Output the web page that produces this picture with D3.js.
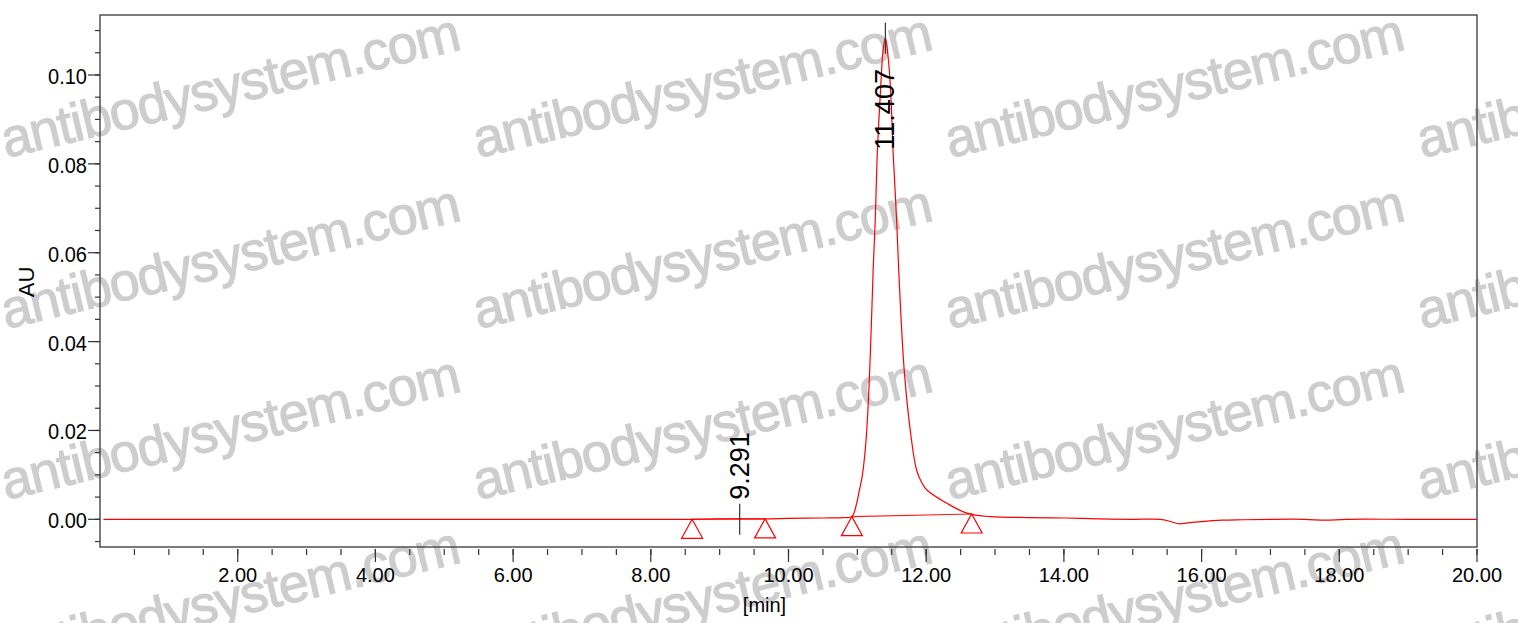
<!DOCTYPE html>
<html>
<head>
<meta charset="utf-8">
<script src="https://cdn.jsdelivr.net/npm/d3@7"></script>
<style>
  body { margin: 0; background: #fff; }
  svg { display: block; font-family: Arial, "Liberation Sans", sans-serif; }
  .tick-label { font-size: 20px; fill: #000; }
  .axis-title { font-size: 22px; fill: #000; }
  .peak-label { font-size: 27px; fill: #000; }
  .wm { font-size: 54px; fill: #cdcdcd; stroke: #cdcdcd; stroke-width: 1.1; letter-spacing: -1.3px; }
</style>
</head>
<body>
<svg id="chart"></svg>
<script>
  //begin: data
  var timeValues = [0.05, 2.0, 4.0, 6.0, 8.0, 8.6, 9.0, 9.66, 10.0, 10.5, 10.8, 10.92,
      10.99, 11.03, 11.07, 11.13, 11.18, 11.23, 11.26, 11.29, 11.34, 11.37, 11.407,
      11.44, 11.48, 11.52, 11.57, 11.60, 11.68, 11.78, 11.86, 11.94, 12.01, 12.30,
      12.59, 12.93, 13.5, 14.0, 14.5, 15.0, 15.4, 15.55, 15.66, 15.8, 16.0, 16.3,
      16.6, 17.0, 17.5, 17.8, 18.1, 19.0, 20.0];
  var auValues = [0.0000, 0.0000, 0.0000, 0.0000, 0.0000, 0.0000, 0.0001, 0.0001, 0.0002, 0.0003, 0.0004, 0.0006,
      0.0036, 0.0066, 0.0096, 0.0186, 0.0337, 0.0563, 0.0675, 0.0825, 0.0975, 0.1050, 0.1084,
      0.1050, 0.0975, 0.0825, 0.0675, 0.0563, 0.0337, 0.0186, 0.0111, 0.0081, 0.0066, 0.0036,
      0.0014, 0.0006, 0.0004, 0.0003, 0.0001, 0.0000, 0.0000, -0.0005, -0.0010, -0.0008, -0.0005, -0.0002,
      -0.0001, 0.0000, 0.0000, -0.0002, 0.0000, 0.0000, 0.0000];

  var markerTimes = [8.60, 9.66, 10.92, 12.66];
  var markerValues = [0.0000, 0.0001, 0.0006, 0.0012];
  var baselinePairs = [[0, 1], [2, 3]];

  var peakTimes = [9.291, 11.407];
  var peakHeights = [0.0001, 0.1084];
  var peakLabels = ["9.291", "11.407"];

  var xTickValues = [2, 4, 6, 8, 10, 12, 14, 16, 18, 20];
  var yTickValues = [0.00, 0.02, 0.04, 0.06, 0.08, 0.10];
  var watermarkText = "antibodysystem.com";
  //end: data

  //begin: layout conf.
  var svgWidth = 1518, svgHeight = 623,
      plot = {left: 100, right: 1477, top: 15, bottom: 547};
  //end: layout conf.

  var svg = d3.select("#chart")
    .attr("width", svgWidth)
    .attr("height", svgHeight);

  var x = d3.scaleLinear().domain([0, 20]).range([plot.left, plot.right]);
  var y = d3.scaleLinear().domain([-0.00623, 0.1135]).range([plot.bottom, plot.top]);

  // watermark, behind everything
  var wm = svg.append("g").classed("watermarks", true);
  for (var r = 0; r < 4; r++) {
    for (var c = 0; c < 4; c++) {
      wm.append("text")
        .classed("wm", true)
        .attr("transform", "translate(" + [6 + c*472, 158 + r*171] + ") rotate(-13.4)")
        .text(watermarkText);
    }
  }

  // frame
  svg.append("rect")
    .attr("x", plot.left)
    .attr("y", plot.top)
    .attr("width", plot.right - plot.left)
    .attr("height", plot.bottom - plot.top)
    .style("fill", "none")
    .style("stroke", "#444")
    .style("stroke-width", 1.4);

  // y axis ticks
  var yAxis = svg.append("g").classed("y-axis", true);
  var yMinor = d3.range(-0.005, 0.1101, 0.005);
  yAxis.selectAll(".minor")
    .data(yMinor)
    .enter().append("line")
    .attr("x1", plot.left - 5).attr("x2", plot.left)
    .attr("y1", function(d){ return y(d); })
    .attr("y2", function(d){ return y(d); })
    .style("stroke", "#333").style("stroke-width", 1.2);
  yAxis.selectAll(".major")
    .data(yTickValues)
    .enter().append("line")
    .attr("x1", plot.left - 12).attr("x2", plot.left)
    .attr("y1", function(d){ return y(d); })
    .attr("y2", function(d){ return y(d); })
    .style("stroke", "#333").style("stroke-width", 1.2);
  yAxis.selectAll(".tick-label")
    .data(yTickValues)
    .enter().append("text")
    .classed("tick-label", true)
    .attr("text-anchor", "end")
    .attr("transform", function(d){ return "translate(" + [plot.left - 13, y(d) + 9] + ") scale(1,1.12)"; })
    .text(function(d){ return d3.format(".2f")(d); });

  // x axis ticks
  var xAxis = svg.append("g").classed("x-axis", true);
  var xMinor = d3.range(0.5, 20.01, 0.5);
  xAxis.selectAll(".minor")
    .data(xMinor)
    .enter().append("line")
    .attr("x1", function(d){ return x(d); })
    .attr("x2", function(d){ return x(d); })
    .attr("y1", plot.bottom + 2).attr("y2", plot.bottom + 8)
    .style("stroke", "#333").style("stroke-width", 1.2);
  xAxis.selectAll(".major")
    .data(xTickValues)
    .enter().append("line")
    .attr("x1", function(d){ return x(d); })
    .attr("x2", function(d){ return x(d); })
    .attr("y1", plot.bottom + 2).attr("y2", plot.bottom + 15)
    .style("stroke", "#333").style("stroke-width", 1.2);
  xAxis.selectAll(".tick-label")
    .data(xTickValues)
    .enter().append("text")
    .classed("tick-label", true)
    .attr("text-anchor", "middle")
    .attr("x", function(d){ return x(d); })
    .attr("y", plot.bottom + 35)
    .text(function(d){ return d3.format(".2f")(d); });

  // axis titles
  svg.append("text")
    .classed("axis-title", true)
    .attr("text-anchor", "middle")
    .attr("transform", "translate(" + [34, 282] + ") rotate(-90)")
    .text("AU");
  svg.append("text")
    .classed("tick-label", true)
    .attr("text-anchor", "middle")
    .attr("x", x(10.0) - 24)
    .attr("y", 612)
    .text("[min]");

  // chromatogram
  var signal = timeValues.map(function(t, i){ return [t, auValues[i]]; });
  var line = d3.line()
    .x(function(d){ return x(d[0]); })
    .y(function(d){ return y(d[1]); })
    .curve(d3.curveCatmullRom.alpha(0.5));

  var chart = svg.append("g").classed("signal", true);

  // integration baselines
  chart.selectAll(".baseline")
    .data(baselinePairs)
    .enter().append("line")
    .classed("baseline", true)
    .attr("x1", function(d){ return x(markerTimes[d[0]]); })
    .attr("y1", function(d){ return y(markerValues[d[0]]); })
    .attr("x2", function(d){ return x(markerTimes[d[1]]); })
    .attr("y2", function(d){ return y(markerValues[d[1]]); })
    .style("stroke", "#ff1a1a").style("stroke-width", 1.1);

  chart.append("path")
    .datum(signal)
    .attr("d", line)
    .style("fill", "none")
    .style("stroke", "#ff0000")
    .style("stroke-width", 1.2);

  // peak start / end markers
  chart.selectAll(".marker")
    .data(markerTimes)
    .enter().append("path")
    .classed("marker", true)
    .attr("transform", function(d, i){ return "translate(" + [x(d), y(markerValues[i])] + ")"; })
    .attr("d", "M0,0L10.5,19L-10.5,19Z")
    .style("fill", "none")
    .style("stroke", "#ff0000")
    .style("stroke-width", 1.2);

  // peak retention markers and labels
  var peaks = svg.append("g").classed("peaks", true);
  peakTimes.forEach(function(t, i){
    var px = x(t), py = y(peakHeights[i]);
    peaks.append("line")
      .attr("x1", px).attr("x2", px)
      .attr("y1", py - 15).attr("y2", py + 16)
      .style("stroke", "#333").style("stroke-width", 1.2);
    var labelLen = 90;
    var labelStart = (py - 19 - labelLen < plot.top) ? py + 112 : py - 19;
    peaks.append("text")
      .classed("peak-label", true)
      .attr("text-anchor", "start")
      .attr("transform", "translate(" + [px + 9, labelStart] + ") rotate(-90)")
      .text(peakLabels[i]);
  });
</script>
</body>
</html>
